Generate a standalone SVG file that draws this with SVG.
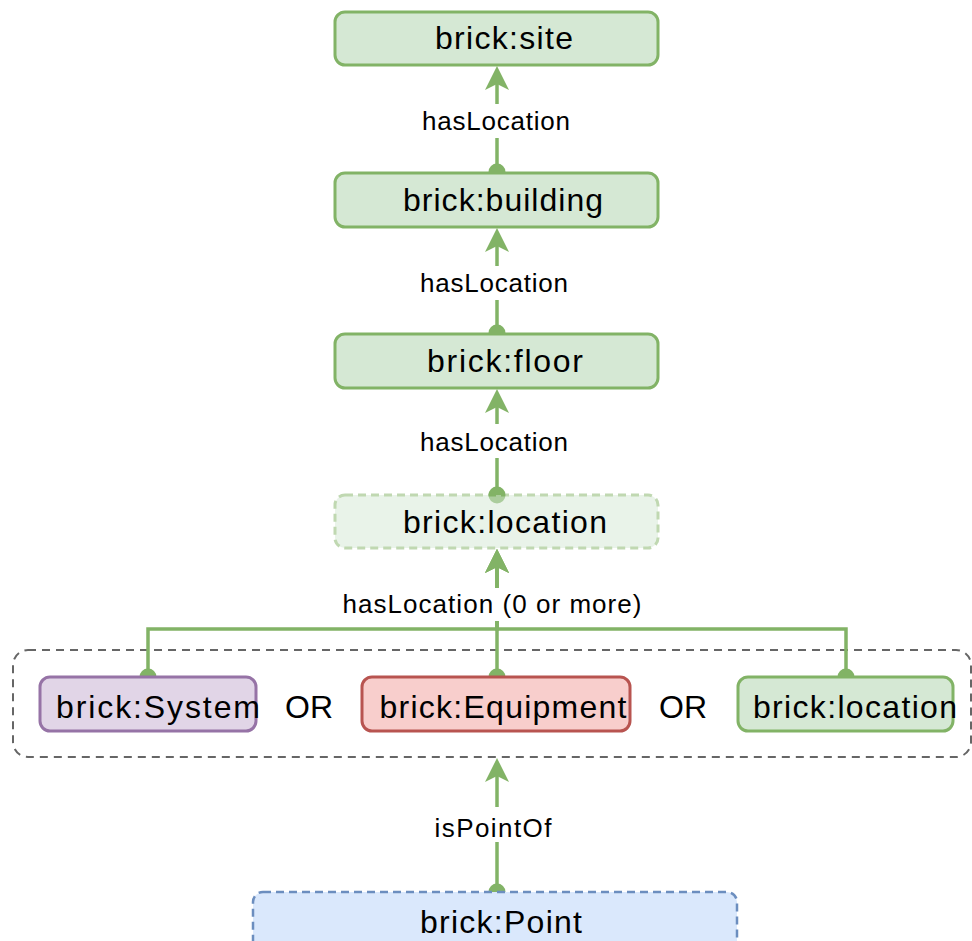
<svg xmlns="http://www.w3.org/2000/svg" width="972" height="941" viewBox="0 0 972 941">
<defs>
<style>
.t{font-family:"Liberation Sans",Arial,sans-serif;font-size:32px;fill:#000;text-anchor:middle}
.l{font-family:"Liberation Sans",Arial,sans-serif;font-size:26px;fill:#000;text-anchor:middle}
.e{fill:none;stroke:#82b366;stroke-width:3.5;marker-start:url(#dot);marker-end:url(#arr)}
.g{fill:#d5e8d4;stroke:#82b366;stroke-width:3}
.bg{fill:#fff;stroke:none}
</style>
<marker id="arr" markerUnits="userSpaceOnUse" viewBox="0 0 26 26" refX="6" refY="13" markerWidth="26" markerHeight="26" orient="auto">
<path d="M6,13 L0,1 L24,13 L0,25 Z" fill="#82b366"/>
</marker>
<marker id="dot" markerUnits="userSpaceOnUse" viewBox="0 0 18 18" refX="9" refY="9" markerWidth="18" markerHeight="18">
<circle cx="9" cy="9" r="8.5" fill="#82b366"/>
</marker>
</defs>
<rect width="972" height="941" fill="#fff"/>
<g id="group-or">
<rect x="13" y="650" width="958" height="107" rx="15" fill="none" stroke="#666" stroke-width="2" stroke-dasharray="8 6"/>
</g>
<g id="connectors">
<path class="e" d="M497,172 V84"/>
<rect class="bg" x="420" y="104" width="154" height="34"/>
<text class="l" x="496" y="130" textLength="148" lengthAdjust="spacing">hasLocation</text>
<path class="e" d="M497,333 V246"/>
<rect class="bg" x="418" y="266" width="156" height="34"/>
<text class="l" x="494" y="292" textLength="148" lengthAdjust="spacing">hasLocation</text>
<path class="e" d="M497,495 V407"/>
<rect class="bg" x="418" y="424" width="156" height="34"/>
<text class="l" x="494" y="451" textLength="148" lengthAdjust="spacing">hasLocation</text>
<path class="e" d="M148,677 V629 H497 V567"/>
<path class="e" d="M497,677 V567"/>
<path class="e" d="M846,677 V629 H497 V567"/>
<rect class="bg" x="338" y="588" width="310" height="33"/>
<text class="l" x="492" y="613" textLength="299" lengthAdjust="spacing">hasLocation (0 or more)</text>
<path class="e" d="M497,892 V776"/>
<rect class="bg" x="430" y="807" width="126" height="35"/>
<text class="l" x="493" y="837" textLength="117" lengthAdjust="spacing">isPointOf</text>
</g>
<g id="site">
<rect class="g" x="335" y="12" width="323" height="53" rx="10"/>
<text class="t" x="504" y="49" textLength="138" lengthAdjust="spacing">brick:site</text>
</g>
<g id="building">
<rect class="g" x="335" y="173" width="323" height="54" rx="10"/>
<text class="t" x="503" y="211" textLength="200" lengthAdjust="spacing">brick:building</text>
</g>
<g id="floor">
<rect class="g" x="335" y="334" width="323" height="54" rx="10"/>
<text class="t" x="505" y="372" textLength="156" lengthAdjust="spacing">brick:floor</text>
</g>
<g id="location-top">
<rect class="g" x="335" y="495" width="323" height="53" rx="10" stroke-dasharray="8 5" opacity="0.5"/>
<text class="t" x="505" y="533" textLength="204" lengthAdjust="spacing">brick:location</text>
</g>
<g id="system">
<rect x="40" y="677" width="216" height="54" rx="10" fill="#e1d5e7" stroke="#9673a6" stroke-width="3"/>
<text class="t" x="158" y="718" textLength="204" lengthAdjust="spacing">brick:System</text>
</g>
<text class="t" x="309" y="718">OR</text>
<g id="equipment">
<rect x="362" y="677" width="268" height="54" rx="10" fill="#f8cecc" stroke="#b85450" stroke-width="3"/>
<text class="t" x="503" y="718" textLength="247" lengthAdjust="spacing">brick:Equipment</text>
</g>
<text class="t" x="683" y="718">OR</text>
<g id="location-bottom">
<rect class="g" x="738" y="677" width="215" height="54" rx="10"/>
<text class="t" x="855" y="718" textLength="204" lengthAdjust="spacing">brick:location</text>
</g>
<g id="point">
<rect x="253" y="892" width="484" height="60" rx="10" fill="#dae8fc" stroke="#6c8ebf" stroke-width="2.5" stroke-dasharray="8 5"/>
<text class="t" x="501" y="933" textLength="162" lengthAdjust="spacing">brick:Point</text>
</g>
</svg>
